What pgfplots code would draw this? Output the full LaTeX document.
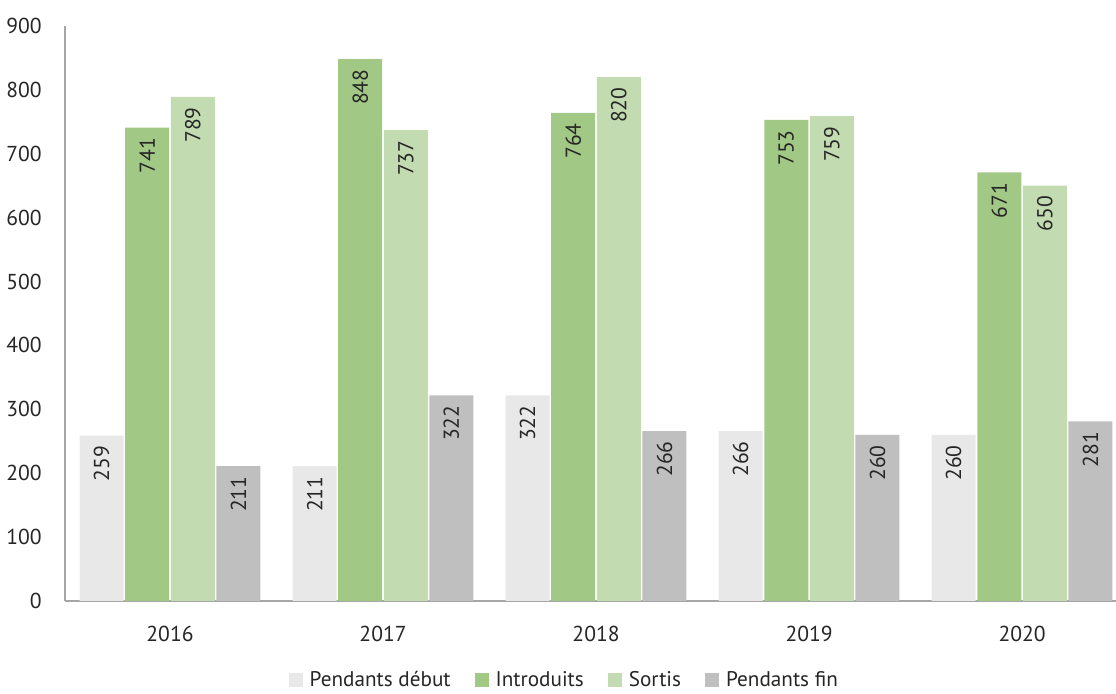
\documentclass[border=0pt]{standalone}
\usepackage{pgfplots}
\pgfplotsset{compat=1.18}
\usepackage{fontspec}
\setmainfont{PT Sans}
\definecolor{cDeb}{HTML}{E8E8E8}
\definecolor{cIntro}{HTML}{A2C886}
\definecolor{cSort}{HTML}{C3DBB0}
\definecolor{cFin}{HTML}{BFBFBF}
\definecolor{cAxis}{HTML}{A6A6A6}
\definecolor{cText}{HTML}{262626}
\begin{document}
\begin{tikzpicture}
\begin{axis}[
  scale only axis,
  width=525.5pt, height=287.5pt,
  ybar=0.8pt, bar width=22pt,
  xmin=-0.493, xmax=4.441,
  ymin=0, ymax=900,
  ytick={0,100,...,900},
  xtick=data,
  xticklabels={2016,2017,2018,2019,2020},
  axis x line=bottom, axis y line=left,
  axis line style={-, draw=cAxis, line width=0.9pt},
  major tick style={draw=none},
  /pgf/number format/assume math mode=true,
  /pgf/number format/1000 sep={},
  tick label style={font=\fontsize{10.8}{13}\selectfont, text=cText},
  yticklabel style={xshift=-6pt},
  xticklabel style={yshift=-7pt},
  nodes near coords,
  every node near coord/.append style={rotate=90, anchor=east, font=\fontsize{10.8}{13}\selectfont, text=cText, inner sep=5pt},
  legend style={draw=none, at={(0.476,-0.138)}, anchor=center, legend columns=4,
    font=\fontsize{10.6}{13}\selectfont, text=cText,
    /tikz/every even column/.append style={column sep=10pt}},
  legend image code/.code={\fill[#1] (0pt,-3.5pt) rectangle (7pt,3.5pt); \path (8.5pt,0pt);},
]
\addplot[fill=cDeb, draw=none] coordinates {(0,259) (1,211) (2,322) (3,266) (4,260)};
\addplot[fill=cIntro, draw=none] coordinates {(0,741) (1,848) (2,764) (3,753) (4,671)};
\addplot[fill=cSort, draw=none] coordinates {(0,789) (1,737) (2,820) (3,759) (4,650)};
\addplot[fill=cFin, draw=none] coordinates {(0,211) (1,322) (2,266) (3,260) (4,281)};
\legend{Pendants début, Introduits, Sortis, Pendants fin}
\coordinate (ll) at (rel axis cs:0,0);
\coordinate (ur) at (rel axis cs:1,1);
\end{axis}
\pgfresetboundingbox
\path ([shift={(-32.5pt,-46.5pt)}]ll) rectangle ([shift={(0pt,13pt)}]ur);
\end{tikzpicture}
\end{document}
